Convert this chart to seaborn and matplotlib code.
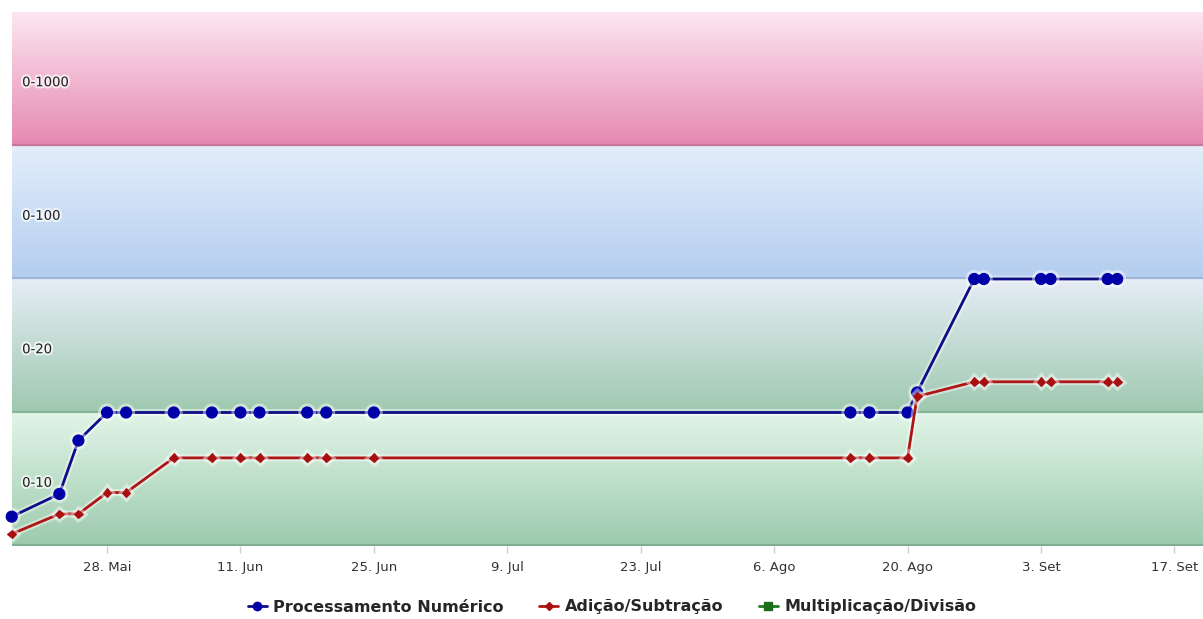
import numpy as np
import pandas as pd
import matplotlib
matplotlib.use("Agg")
import matplotlib.pyplot as plt
import matplotlib.dates as mdates
import matplotlib.patheffects as pe
from matplotlib.lines import Line2D
from matplotlib.colors import LinearSegmentedColormap
import seaborn as sns

# ---------------- data ----------------
dates = ["2012-05-18", "2012-05-23", "2012-05-25", "2012-05-28", "2012-05-30",
         "2012-06-04", "2012-06-08", "2012-06-11", "2012-06-13", "2012-06-18",
         "2012-06-20", "2012-06-25", "2012-08-14", "2012-08-16", "2012-08-20",
         "2012-08-21", "2012-08-27", "2012-08-28", "2012-09-03", "2012-09-04",
         "2012-09-10", "2012-09-11"]
processamento = [2.2, 3.9, 7.9, 10.0, 10.0, 10.0, 10.0, 10.0, 10.0, 10.0, 10.0,
                 10.0, 10.0, 10.0, 10.0, 11.5, 20.0, 20.0, 20.0, 20.0, 20.0, 20.0]
adicao = [0.9, 2.4, 2.4, 4.0, 4.0, 6.6, 6.6, 6.6, 6.6, 6.6, 6.6,
          6.6, 6.6, 6.6, 6.6, 11.2, 12.3, 12.3, 12.3, 12.3, 12.3, 12.3]
series_names = ["Processamento Numérico", "Adição/Subtração", "Multiplicação/Divisão"]

band_labels = ["0-10", "0-20", "0-100", "0-1000"]
band_edges = [0, 10, 20, 30, 40]

tick_dates = ["2012-05-28", "2012-06-11", "2012-06-25", "2012-07-09", "2012-07-23",
              "2012-08-06", "2012-08-20", "2012-09-03", "2012-09-17"]
tick_labels = ["28. Mai", "11. Jun", "25. Jun", "9. Jul", "23. Jul",
               "6. Ago", "20. Ago", "3. Set", "17. Set"]

# ---------------- style ----------------
sns.set_theme(style="white")
plt.rcParams['font.family'] = ['DejaVu Sans']

band_colors = [("#e2f5e8", "#9ccaad"),   # 0-10 (top, bottom)
               ("#e6edf6", "#9fc9b0"),   # 0-20
               ("#e4eefb", "#b3cdef"),   # 0-100
               ("#fde7f2", "#e589b1")]   # 0-1000
band_line = ["#7fae92", "#86b598", "#9db6d6", "#c97698"]

fig = plt.figure(figsize=(12.03, 6.19), dpi=100)
ax = fig.add_axes([12/1203, 1-546/619, 1-12/1203, (546-12)/619])

df = pd.DataFrame({
    "date": pd.to_datetime(dates * 2),
    "value": processamento + adicao,
    "series": [series_names[0]] * len(dates) + [series_names[1]] * len(dates),
})

x0 = mdates.date2num(pd.Timestamp("2012-05-28")) - 9.97
x1 = mdates.date2num(pd.Timestamp("2012-05-28")) + 115.0

# gradient bands
for i, lab in enumerate(band_labels):
    top_c, bot_c = band_colors[i]
    cmap = LinearSegmentedColormap.from_list("b%d" % i, [top_c, bot_c])
    grad = np.linspace(0, 1, 256).reshape(-1, 1)
    ax.imshow(grad, cmap=cmap, aspect="auto", origin="upper",
              extent=[x0, x1, band_edges[i], band_edges[i + 1]], zorder=0)
    ax.axhline(band_edges[i] + 0.05, color=band_line[i], lw=1.6, zorder=0.5)
    ax.text(0.0085, (band_edges[i] + band_edges[i + 1]) / 2 - 0.3, lab,
            transform=ax.get_yaxis_transform(), fontsize=9.5, color="#222222",
            va="center", ha="left", zorder=1,
            path_effects=[pe.withStroke(linewidth=3, foreground="white", alpha=0.7)])

glow = [pe.Stroke(linewidth=5, foreground="white", alpha=0.45), pe.Normal()]

sns.lineplot(data=df[df.series == series_names[0]], x="date", y="value",
             ax=ax, color="#0d0d85", lw=2.0, marker="o", markersize=8,
             markerfacecolor="#0000a8", markeredgecolor="#0000a8",
             legend=False, zorder=3, clip_on=False, path_effects=glow)
sns.lineplot(data=df[df.series == series_names[1]], x="date", y="value",
             ax=ax, color="#b01515", lw=2.0, marker="D", markersize=4.5,
             markerfacecolor="#a81010", markeredgecolor="#a81010",
             legend=False, zorder=4, clip_on=False, path_effects=glow)

ax.set_xlim(x0, x1)
ax.set_ylim(0, 40)
ax.set_yticks([])
ax.set_xticks(mdates.date2num(pd.to_datetime(tick_dates)))
ax.set_xticklabels(tick_labels, fontsize=9.5, color="#333333")
ax.tick_params(axis="x", length=5, color="#c8d0dc", width=1, pad=6, bottom=True)
ax.set_xlabel("")
ax.set_ylabel("")
for s in ax.spines.values():
    s.set_visible(False)

handles = [
    Line2D([], [], color="#0d0d85", lw=2, marker="o", markersize=6,
           markerfacecolor="#0000a8", markeredgecolor="#0000a8"),
    Line2D([], [], color="#b01515", lw=2, marker="D", markersize=4,
           markerfacecolor="#a81010", markeredgecolor="#a81010"),
    Line2D([], [], color="#1a7a1a", lw=2, marker="s", markersize=6,
           markerfacecolor="#1a6e1a", markeredgecolor="#1a6e1a"),
]
fig.legend(handles, series_names, loc="center", bbox_to_anchor=(612/1203, 1-607/619),
           ncol=3, frameon=False, prop={"weight": "bold", "size": 11.5},
           handlelength=1.2, handletextpad=0.4, columnspacing=2.2)

fig.savefig("out.png", dpi=100, facecolor="white")
